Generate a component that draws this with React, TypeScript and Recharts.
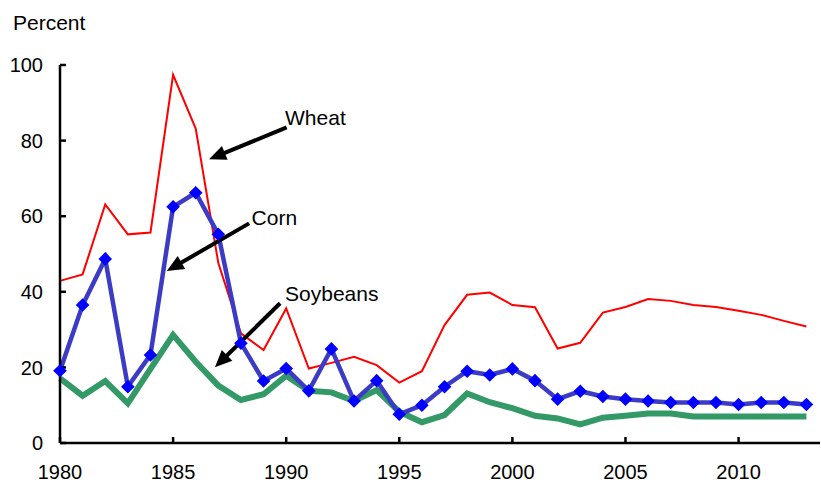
import React from "react";
import { LineChart, Line, XAxis, YAxis, ReferenceLine, ReferenceDot } from "recharts";

const years = [1980, 1981, 1982, 1983, 1984, 1985, 1986, 1987, 1988, 1989, 1990, 1991, 1992, 1993, 1994, 1995, 1996, 1997, 1998, 1999, 2000, 2001, 2002, 2003, 2004, 2005, 2006, 2007, 2008, 2009, 2010, 2011, 2012, 2013];
const wheat = [42.9, 44.6, 63.1, 55.2, 55.7, 97.4, 83.2, 47.6, 29.0, 24.6, 35.6, 19.7, 21.2, 22.8, 20.6, 16.0, 19.0, 31.2, 39.2, 39.8, 36.5, 35.9, 25.0, 26.5, 34.5, 36.0, 38.1, 37.6, 36.5, 36.0, 35.0, 33.9, 32.3, 30.8];
const corn = [19.1, 36.5, 48.7, 14.9, 23.3, 62.5, 66.2, 55.2, 26.4, 16.4, 19.7, 13.8, 24.9, 11.1, 16.5, 7.6, 10.0, 14.9, 19.0, 18.0, 19.6, 16.5, 11.6, 13.7, 12.3, 11.6, 11.1, 10.7, 10.7, 10.7, 10.2, 10.7, 10.7, 10.2];
const soybeans = [17.1, 12.5, 16.4, 10.5, 19.6, 28.6, 21.5, 15.2, 11.4, 12.9, 17.8, 13.8, 13.4, 11.1, 14.0, 8.3, 5.5, 7.4, 13.1, 10.8, 9.2, 7.2, 6.5, 4.9, 6.7, 7.2, 7.8, 7.8, 7.0, 7.0, 7.0, 7.0, 7.0, 7.0];

const xTicks = [1980, 1985, 1990, 1995, 2000, 2005, 2010];
const yTicks = [0, 20, 40, 60, 80, 100];

// annotations: label anchor and arrow (tail -> tip) in data coordinates
const annotations = [
  { name: "Wheat", text: { x: 1989.95, y: 84.1 }, tail: { x: 1990.02, y: 83.5 }, tip: { x: 1986.59, y: 75.05 } },
  { name: "Corn", text: { x: 1988.47, y: 57.7 }, tail: { x: 1988.36, y: 58.1 }, tip: { x: 1984.72, y: 45.5 } },
  { name: "Soybeans", text: { x: 1989.95, y: 37.6 }, tail: { x: 1989.73, y: 36.96 }, tip: { x: 1986.85, y: 20.03 } },
];

const data = years.map((year, i) => ({ year, wheat: wheat[i], corn: corn[i], soybeans: soybeans[i] }));

const FONT = "'Liberation Sans', Arial, sans-serif";

const Diamond = (props: any) => {
  const { cx, cy, index } = props;
  if (cx == null || cy == null) return <g key={index} />;
  const s = 6.8;
  return (
    <path
      key={index}
      d={`M${cx},${cy - s}L${cx + s},${cy}L${cx},${cy + s}L${cx - s},${cy}Z`}
      fill="#0000FF"
    />
  );
};

const Arrow = (props: any) => {
  const { x1, y1, x2, y2 } = props;
  const dx = x2 - x1;
  const dy = y2 - y1;
  const len = Math.sqrt(dx * dx + dy * dy) || 1;
  const ux = dx / len;
  const uy = dy / len;
  const L = 17;
  const W = 7.5;
  const bx = x2 - ux * L;
  const by = y2 - uy * L;
  const nx = -uy;
  const ny = ux;
  return (
    <g>
      <line x1={x1} y1={y1} x2={bx + ux * 2} y2={by + uy * 2} stroke="#000" strokeWidth={4} />
      <polygon
        points={`${x2},${y2} ${bx + nx * W},${by + ny * W} ${bx - nx * W},${by - ny * W}`}
        fill="#000"
      />
    </g>
  );
};

export default function App() {
  return (
    <div style={{ position: "absolute", left: 0, top: 0, width: 821, height: 484, fontFamily: FONT, background: "#fff" }}>
      <div style={{ position: "absolute", left: 13, top: 12, fontSize: 21, lineHeight: "21px", color: "#000" }}>Percent</div>
      <LineChart width={821} height={484} data={data} margin={{ top: 65, right: 1, bottom: 0, left: 0 }}>
        <XAxis
          dataKey="year"
          type="number"
          domain={[1980, 2013.6]}
          ticks={xTicks}
          height={41}
          tickSize={-6}
          tickMargin={28}
          axisLine={{ stroke: "#000", strokeWidth: 2.5 }}
          tickLine={{ stroke: "#000", strokeWidth: 2.5 }}
          tick={{ fill: "#000", fontSize: 20, fontFamily: FONT }}
          interval={0}
        />
        <YAxis
          type="number"
          domain={[0, 100]}
          ticks={yTicks}
          width={60}
          tickSize={-6}
          tickMargin={23}
          axisLine={{ stroke: "#000", strokeWidth: 2.5 }}
          tickLine={{ stroke: "#000", strokeWidth: 2.5 }}
          tick={{ fill: "#000", fontSize: 20, fontFamily: FONT }}
          interval={0}
        />
        <Line dataKey="soybeans" type="linear" stroke="#339966" strokeWidth={6} dot={false} activeDot={false} isAnimationActive={false} strokeLinejoin="miter" />
        <Line dataKey="wheat" type="linear" stroke="#FF0000" strokeWidth={2} dot={false} activeDot={false} isAnimationActive={false} />
        <Line dataKey="corn" type="linear" stroke="#3B3BC6" strokeWidth={4.5} dot={<Diamond />} activeDot={false} isAnimationActive={false} />
        {annotations.map((a) => (
          <ReferenceLine key={`arrow-${a.name}`} segment={[a.tail, a.tip]} shape={Arrow} />
        ))}
        {annotations.map((a) => (
          <ReferenceDot
            key={`text-${a.name}`}
            x={a.text.x}
            y={a.text.y}
            r={1}
            shape={(p: any) => (
              <text x={p.cx} y={p.cy} fontSize={21} fontFamily={FONT} fill="#000" textAnchor="start">
                {a.name}
              </text>
            )}
          />
        ))}
      </LineChart>
    </div>
  );
}
